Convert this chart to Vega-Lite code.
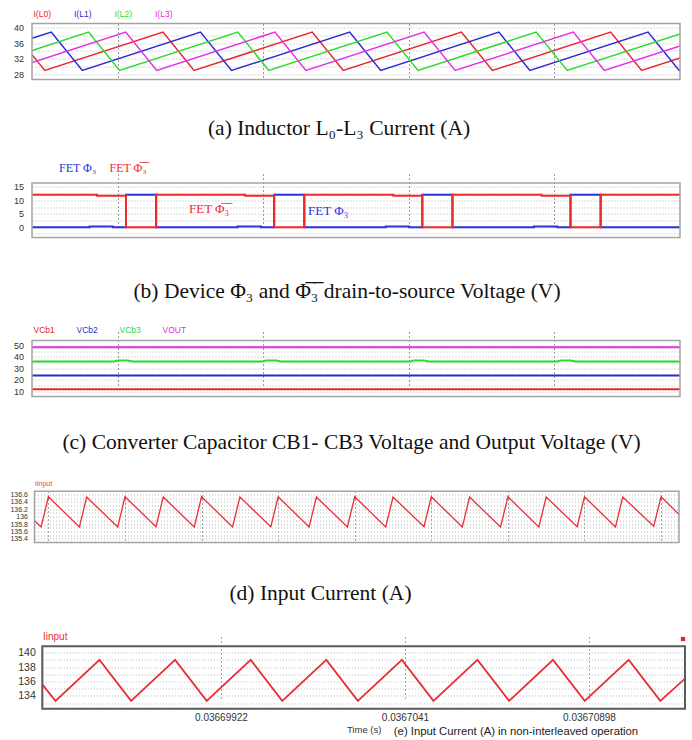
{
  "$schema": "https://vega.github.io/schema/vega-lite/v6.json",
  "background": "white",
  "padding": {"left": 9, "top": 9.5, "right": 0, "bottom": 0},
  "spacing": 94,
  "bounds": "flush",
  "resolve": {"scale": {"color": "independent"}, "legend": {"color": "independent"}},
  "config": {
    "view": {"stroke": null},
    "font": "Liberation Sans",
    "axis": {"labelFont": "Liberation Sans", "labelColor": "#333333", "ticks": false, "tickSize": 0, "domain": false, "labelOverlap": false},
    "legend": {"orient": "none", "direction": "horizontal", "gridAlign": "all", "symbolSize": 0, "symbolStrokeWidth": 0, "labelOffset": 0, "padding": 0, "rowPadding": 0}
  },
  "datasets": {
    "inductor": [
      {"s": "I(L0)", "t": 0, "i": 33.05}, {"s": "I(L0)", "t": 0.86, "i": 29.0}, {"s": "I(L0)", "t": 8.78, "i": 38.8}, {"s": "I(L0)", "t": 10.86, "i": 29.0},
      {"s": "I(L0)", "t": 18.78, "i": 38.8}, {"s": "I(L0)", "t": 20.86, "i": 29.0}, {"s": "I(L0)", "t": 28.78, "i": 38.8}, {"s": "I(L0)", "t": 30.86, "i": 29.0},
      {"s": "I(L0)", "t": 38.78, "i": 38.8}, {"s": "I(L0)", "t": 40.86, "i": 29.0}, {"s": "I(L0)", "t": 43.43, "i": 32.18},
      {"s": "I(L1)", "t": 0, "i": 37.2}, {"s": "I(L1)", "t": 1.29, "i": 38.8}, {"s": "I(L1)", "t": 3.37, "i": 29.0}, {"s": "I(L1)", "t": 11.29, "i": 38.8},
      {"s": "I(L1)", "t": 13.37, "i": 29.0}, {"s": "I(L1)", "t": 21.29, "i": 38.8}, {"s": "I(L1)", "t": 23.37, "i": 29.0}, {"s": "I(L1)", "t": 31.29, "i": 38.8},
      {"s": "I(L1)", "t": 33.37, "i": 29.0}, {"s": "I(L1)", "t": 41.29, "i": 38.8}, {"s": "I(L1)", "t": 43.37, "i": 29.0}, {"s": "I(L1)", "t": 43.43, "i": 29.07},
      {"s": "I(L2)", "t": 0, "i": 34.1}, {"s": "I(L2)", "t": 3.79, "i": 38.8}, {"s": "I(L2)", "t": 5.87, "i": 29.0}, {"s": "I(L2)", "t": 13.79, "i": 38.8},
      {"s": "I(L2)", "t": 15.87, "i": 29.0}, {"s": "I(L2)", "t": 23.79, "i": 38.8}, {"s": "I(L2)", "t": 25.87, "i": 29.0}, {"s": "I(L2)", "t": 33.79, "i": 38.8},
      {"s": "I(L2)", "t": 35.87, "i": 29.0}, {"s": "I(L2)", "t": 43.43, "i": 38.35},
      {"s": "I(L3)", "t": 0, "i": 31.0}, {"s": "I(L3)", "t": 6.28, "i": 38.8}, {"s": "I(L3)", "t": 8.36, "i": 29.0}, {"s": "I(L3)", "t": 16.28, "i": 38.8},
      {"s": "I(L3)", "t": 18.36, "i": 29.0}, {"s": "I(L3)", "t": 26.28, "i": 38.8}, {"s": "I(L3)", "t": 28.36, "i": 29.0}, {"s": "I(L3)", "t": 36.28, "i": 38.8},
      {"s": "I(L3)", "t": 38.36, "i": 29.0}, {"s": "I(L3)", "t": 43.43, "i": 35.27}
    ],
    "fet": [
      {"s": "FET \u03a6\u2083", "t": 0, "v": 0}, {"s": "FET \u03a6\u2083", "t": 3.85, "v": 0}, {"s": "FET \u03a6\u2083", "t": 3.85, "v": 0.3}, {"s": "FET \u03a6\u2083", "t": 5.42, "v": 0.3},
      {"s": "FET \u03a6\u2083", "t": 5.42, "v": 0}, {"s": "FET \u03a6\u2083", "t": 6.30, "v": 0}, {"s": "FET \u03a6\u2083", "t": 6.30, "v": 12}, {"s": "FET \u03a6\u2083", "t": 8.32, "v": 12},
      {"s": "FET \u03a6\u2083", "t": 8.32, "v": 0}, {"s": "FET \u03a6\u2083", "t": 13.78, "v": 0}, {"s": "FET \u03a6\u2083", "t": 13.78, "v": 0.3}, {"s": "FET \u03a6\u2083", "t": 15.35, "v": 0.3},
      {"s": "FET \u03a6\u2083", "t": 15.35, "v": 0}, {"s": "FET \u03a6\u2083", "t": 16.23, "v": 0}, {"s": "FET \u03a6\u2083", "t": 16.23, "v": 12}, {"s": "FET \u03a6\u2083", "t": 18.25, "v": 12},
      {"s": "FET \u03a6\u2083", "t": 18.25, "v": 0}, {"s": "FET \u03a6\u2083", "t": 23.71, "v": 0}, {"s": "FET \u03a6\u2083", "t": 23.71, "v": 0.3}, {"s": "FET \u03a6\u2083", "t": 25.28, "v": 0.3},
      {"s": "FET \u03a6\u2083", "t": 25.28, "v": 0}, {"s": "FET \u03a6\u2083", "t": 26.16, "v": 0}, {"s": "FET \u03a6\u2083", "t": 26.16, "v": 12}, {"s": "FET \u03a6\u2083", "t": 28.18, "v": 12},
      {"s": "FET \u03a6\u2083", "t": 28.18, "v": 0}, {"s": "FET \u03a6\u2083", "t": 33.64, "v": 0}, {"s": "FET \u03a6\u2083", "t": 33.64, "v": 0.3}, {"s": "FET \u03a6\u2083", "t": 35.21, "v": 0.3},
      {"s": "FET \u03a6\u2083", "t": 35.21, "v": 0}, {"s": "FET \u03a6\u2083", "t": 36.09, "v": 0}, {"s": "FET \u03a6\u2083", "t": 36.09, "v": 12}, {"s": "FET \u03a6\u2083", "t": 38.11, "v": 12},
      {"s": "FET \u03a6\u2083", "t": 38.11, "v": 0}, {"s": "FET \u03a6\u2083", "t": 43.43, "v": 0},
      {"s": "FET \u03a6\u0305\u2083\u0305", "t": 0, "v": 12}, {"s": "FET \u03a6\u0305\u2083\u0305", "t": 4.36, "v": 12}, {"s": "FET \u03a6\u0305\u2083\u0305", "t": 4.36, "v": 11.7}, {"s": "FET \u03a6\u0305\u2083\u0305", "t": 6.30, "v": 11.7},
      {"s": "FET \u03a6\u0305\u2083\u0305", "t": 6.30, "v": 0}, {"s": "FET \u03a6\u0305\u2083\u0305", "t": 8.32, "v": 0}, {"s": "FET \u03a6\u0305\u2083\u0305", "t": 8.32, "v": 12}, {"s": "FET \u03a6\u0305\u2083\u0305", "t": 14.29, "v": 12},
      {"s": "FET \u03a6\u0305\u2083\u0305", "t": 14.29, "v": 11.7}, {"s": "FET \u03a6\u0305\u2083\u0305", "t": 16.23, "v": 11.7}, {"s": "FET \u03a6\u0305\u2083\u0305", "t": 16.23, "v": 0}, {"s": "FET \u03a6\u0305\u2083\u0305", "t": 18.25, "v": 0},
      {"s": "FET \u03a6\u0305\u2083\u0305", "t": 18.25, "v": 12}, {"s": "FET \u03a6\u0305\u2083\u0305", "t": 24.22, "v": 12}, {"s": "FET \u03a6\u0305\u2083\u0305", "t": 24.22, "v": 11.7}, {"s": "FET \u03a6\u0305\u2083\u0305", "t": 26.16, "v": 11.7},
      {"s": "FET \u03a6\u0305\u2083\u0305", "t": 26.16, "v": 0}, {"s": "FET \u03a6\u0305\u2083\u0305", "t": 28.18, "v": 0}, {"s": "FET \u03a6\u0305\u2083\u0305", "t": 28.18, "v": 12}, {"s": "FET \u03a6\u0305\u2083\u0305", "t": 34.15, "v": 12},
      {"s": "FET \u03a6\u0305\u2083\u0305", "t": 34.15, "v": 11.7}, {"s": "FET \u03a6\u0305\u2083\u0305", "t": 36.09, "v": 11.7}, {"s": "FET \u03a6\u0305\u2083\u0305", "t": 36.09, "v": 0}, {"s": "FET \u03a6\u0305\u2083\u0305", "t": 38.11, "v": 0},
      {"s": "FET \u03a6\u0305\u2083\u0305", "t": 38.11, "v": 12}, {"s": "FET \u03a6\u0305\u2083\u0305", "t": 43.43, "v": 12}
    ],
    "fetNotes": [
      {"s": "FET \u03a6\u0305\u2083\u0305", "t": 10.52, "v": 6.6},
      {"s": "FET \u03a6\u2083", "t": 18.5, "v": 5.9}
    ],
    "caps": [
      {"s": "VCb1", "t": 0, "v": 11.8}, {"s": "VCb1", "t": 43.43, "v": 11.8},
      {"s": "VCb2", "t": 0, "v": 23.8}, {"s": "VCb2", "t": 43.43, "v": 23.8},
      {"s": "VCb3", "t": 0, "v": 36.0}, {"s": "VCb3", "t": 5.5, "v": 36.0}, {"s": "VCb3", "t": 5.75, "v": 36.8}, {"s": "VCb3", "t": 6.4, "v": 36.8}, {"s": "VCb3", "t": 6.75, "v": 36.0},
      {"s": "VCb3", "t": 15.45, "v": 36.0}, {"s": "VCb3", "t": 15.7, "v": 36.8}, {"s": "VCb3", "t": 16.35, "v": 36.8}, {"s": "VCb3", "t": 16.7, "v": 36.0},
      {"s": "VCb3", "t": 25.35, "v": 36.0}, {"s": "VCb3", "t": 25.6, "v": 36.8}, {"s": "VCb3", "t": 26.25, "v": 36.8}, {"s": "VCb3", "t": 26.6, "v": 36.0},
      {"s": "VCb3", "t": 35.2, "v": 36.0}, {"s": "VCb3", "t": 35.45, "v": 36.8}, {"s": "VCb3", "t": 36.1, "v": 36.8}, {"s": "VCb3", "t": 36.45, "v": 36.0},
      {"s": "VCb3", "t": 43.43, "v": 36.0},
      {"s": "VOUT", "t": 0, "v": 48.4}, {"s": "VOUT", "t": 43.43, "v": 48.4}
    ],
    "interleaved": [
      {"s": "Iinput", "t": 0, "v": 135.89}, {"s": "Iinput", "t": 0.431, "v": 135.72}, {"s": "Iinput", "t": 0.908, "v": 136.54},
      {"s": "Iinput", "t": 2.931, "v": 135.72}, {"s": "Iinput", "t": 3.408, "v": 136.53}, {"s": "Iinput", "t": 5.431, "v": 135.72}, {"s": "Iinput", "t": 5.908, "v": 136.54},
      {"s": "Iinput", "t": 7.931, "v": 135.73}, {"s": "Iinput", "t": 8.408, "v": 136.53}, {"s": "Iinput", "t": 10.431, "v": 135.72}, {"s": "Iinput", "t": 10.908, "v": 136.54},
      {"s": "Iinput", "t": 12.931, "v": 135.72}, {"s": "Iinput", "t": 13.408, "v": 136.53}, {"s": "Iinput", "t": 15.431, "v": 135.73}, {"s": "Iinput", "t": 15.908, "v": 136.54},
      {"s": "Iinput", "t": 17.931, "v": 135.72}, {"s": "Iinput", "t": 18.408, "v": 136.53}, {"s": "Iinput", "t": 20.431, "v": 135.72}, {"s": "Iinput", "t": 20.908, "v": 136.54},
      {"s": "Iinput", "t": 22.931, "v": 135.72}, {"s": "Iinput", "t": 23.408, "v": 136.53}, {"s": "Iinput", "t": 25.431, "v": 135.73}, {"s": "Iinput", "t": 25.908, "v": 136.54},
      {"s": "Iinput", "t": 27.931, "v": 135.72}, {"s": "Iinput", "t": 28.408, "v": 136.53}, {"s": "Iinput", "t": 30.431, "v": 135.72}, {"s": "Iinput", "t": 30.908, "v": 136.54},
      {"s": "Iinput", "t": 32.931, "v": 135.72}, {"s": "Iinput", "t": 33.408, "v": 136.53}, {"s": "Iinput", "t": 35.431, "v": 135.73}, {"s": "Iinput", "t": 35.908, "v": 136.54},
      {"s": "Iinput", "t": 37.931, "v": 135.72}, {"s": "Iinput", "t": 38.408, "v": 136.53}, {"s": "Iinput", "t": 40.431, "v": 135.74}, {"s": "Iinput", "t": 40.908, "v": 136.54},
      {"s": "Iinput", "t": 42.08, "v": 136.06}
    ],
    "single": [
      {"s": "Iinput", "t": 36694.481, "v": 135.6}, {"s": "Iinput", "t": 36694.831, "v": 133.3}, {"s": "Iinput", "t": 36695.998, "v": 139.0},
      {"s": "Iinput", "t": 36696.836, "v": 133.3}, {"s": "Iinput", "t": 36698.003, "v": 139.0}, {"s": "Iinput", "t": 36698.841, "v": 133.3},
      {"s": "Iinput", "t": 36700.008, "v": 139.0}, {"s": "Iinput", "t": 36700.846, "v": 133.3}, {"s": "Iinput", "t": 36702.013, "v": 139.0},
      {"s": "Iinput", "t": 36702.851, "v": 133.3}, {"s": "Iinput", "t": 36704.018, "v": 139.0}, {"s": "Iinput", "t": 36704.856, "v": 133.3},
      {"s": "Iinput", "t": 36706.023, "v": 139.0}, {"s": "Iinput", "t": 36706.862, "v": 133.3}, {"s": "Iinput", "t": 36708.028, "v": 139.0},
      {"s": "Iinput", "t": 36708.867, "v": 133.3}, {"s": "Iinput", "t": 36710.034, "v": 139.0}, {"s": "Iinput", "t": 36710.872, "v": 133.3},
      {"s": "Iinput", "t": 36711.527, "v": 136.4}
    ]
  },
  "vconcat": [
    {
      "width": 648,
      "height": 56,
      "title": {"text": "(a) Inductor L\u2080-L\u2083 Current (A)", "orient": "bottom", "anchor": "middle", "frame": "group", "dx": -17, "offset": 38, "font": "Liberation Serif", "fontSize": 21.5, "fontWeight": "normal", "color": "#111111"},
      "layer": [
        {
          "data": {"name": "inductor"},
          "mark": {"type": "line", "strokeWidth": 1.5, "clip": true},
          "encoding": {
            "x": {"field": "t", "type": "quantitative", "scale": {"domain": [0, 43.43], "nice": false, "zero": false},
                  "axis": {"title": null, "values": [5.76, 15.5, 25.25, 34.99], "labels": false, "grid": true, "gridColor": "#9a9a9a", "gridDash": [2, 2]}},
            "y": {"field": "i", "type": "quantitative", "scale": {"domain": [26.7, 41], "nice": false, "zero": false},
                  "axis": {"title": null, "values": [28, 30, 32, 34, 36, 38, 40], "labelOverlap": false, "labelExpr": "datum.value % 4 === 0 ? datum.label : ''", "labelFontSize": 9, "labelPadding": 8.5, "grid": true, "gridColor": "#b8b8b8", "gridDash": [1, 2]}},
            "color": {"field": "s", "type": "nominal",
                      "scale": {"domain": ["I(L0)", "I(L1)", "I(L2)", "I(L3)"], "range": ["#e8252b", "#2a2ad2", "#2bdc2b", "#e52ee5"]},
                      "legend": {"title": null, "legendX": -7, "legendY": -13.5, "columns": 4, "columnPadding": 14.5, "labelFont": "Liberation Sans", "labelFontSize": 8.5,
                                 "encode": {"labels": {"update": {"fill": {"signal": "['#e8252b', '#2a2ad2', '#2bdc2b', '#e52ee5'][datum.index]"}}}}}},
            "order": {"value": null}
          }
        },
        {
          "data": {"values": [{}]},
          "mark": {"type": "rect", "filled": false, "stroke": "#a4a4a4", "strokeWidth": 1.5},
          "encoding": {
            "x": {"datum": 0, "type": "quantitative", "scale": {"domain": [0, 43.43], "nice": false, "zero": false},
                  "axis": {"title": null, "values": [5.76, 15.5, 25.25, 34.99], "labels": false, "grid": true, "gridColor": "#9a9a9a", "gridDash": [2, 2]}},
            "x2": {"datum": 43.43},
            "y": {"datum": 26.7, "type": "quantitative", "scale": {"domain": [26.7, 41], "nice": false, "zero": false},
                  "axis": {"title": null, "values": [28, 30, 32, 34, 36, 38, 40], "labelOverlap": false, "labelExpr": "datum.value % 4 === 0 ? datum.label : ''", "labelFontSize": 9, "labelPadding": 8.5, "grid": true, "gridColor": "#b8b8b8", "gridDash": [1, 2]}},
            "y2": {"datum": 41}
          }
        }
      ]
    },
    {
      "width": 648,
      "height": 64,
      "title": {"text": "(b) Device \u03a6\u2083 and \u03a6\u0305\u2083\u0305 drain-to-source Voltage (V)", "orient": "bottom", "anchor": "middle", "frame": "group", "dx": -9, "offset": 42, "font": "Liberation Serif", "fontSize": 21.5, "fontWeight": "normal", "color": "#111111"},
      "layer": [
        {
          "data": {"name": "fet"},
          "mark": {"type": "line", "strokeWidth": 2, "clip": true},
          "encoding": {
            "x": {"field": "t", "type": "quantitative", "scale": {"domain": [0, 43.43], "nice": false, "zero": false},
                  "axis": {"title": null, "values": [5.76, 15.5, 25.25, 34.99], "labels": false, "grid": true, "gridColor": "#9a9a9a", "gridDash": [2, 2]}},
            "y": {"field": "v", "type": "quantitative", "scale": {"domain": [-3.8, 16.4], "nice": false, "zero": false, "range": [64, 9.5]},
                  "axis": {"title": null, "values": [-2.5, 0, 2.5, 5, 7.5, 10, 12.5, 15], "labelOverlap": false, "labelExpr": "datum.value % 5 === 0 ? datum.label : ''", "labelFontSize": 9, "labelPadding": 8.5, "grid": true, "gridColor": "#b8b8b8", "gridDash": [1, 2]}},
            "color": {"field": "s", "type": "nominal",
                      "scale": {"domain": ["FET \u03a6\u2083", "FET \u03a6\u0305\u2083\u0305"], "range": ["#2a35e0", "#ee2a2a"]},
                      "legend": {"title": null, "legendX": 15, "legendY": -12, "columns": 2, "columnPadding": 0.5, "labelFont": "Liberation Serif", "labelFontSize": 12,
                                 "encode": {"labels": {"update": {"fill": {"signal": "['#2a35e0', '#ee2a2a'][datum.index]"}}}}}},
            "order": {"value": null}
          }
        },
        {
          "data": {"name": "fetNotes"},
          "mark": {"type": "text", "align": "left", "baseline": "middle", "font": "Liberation Serif", "fontSize": 13},
          "encoding": {
            "x": {"field": "t", "type": "quantitative", "scale": {"domain": [0, 43.43], "nice": false, "zero": false},
                  "axis": {"title": null, "values": [5.76, 15.5, 25.25, 34.99], "labels": false, "grid": true, "gridColor": "#9a9a9a", "gridDash": [2, 2]}},
            "y": {"field": "v", "type": "quantitative", "scale": {"domain": [-3.8, 16.4], "nice": false, "zero": false, "range": [64, 9.5]},
                  "axis": {"title": null, "values": [-2.5, 0, 2.5, 5, 7.5, 10, 12.5, 15], "labelOverlap": false, "labelExpr": "datum.value % 5 === 0 ? datum.label : ''", "labelFontSize": 9, "labelPadding": 8.5, "grid": true, "gridColor": "#b8b8b8", "gridDash": [1, 2]}},
            "text": {"field": "s"},
            "color": {"field": "s", "type": "nominal", "legend": null}
          }
        },
        {
          "data": {"values": [{}]},
          "mark": {"type": "rect", "filled": false, "stroke": "#a4a4a4", "strokeWidth": 1.5},
          "encoding": {
            "x": {"datum": 0, "type": "quantitative", "scale": {"domain": [0, 43.43], "nice": false, "zero": false},
                  "axis": {"title": null, "values": [5.76, 15.5, 25.25, 34.99], "labels": false, "grid": true, "gridColor": "#9a9a9a", "gridDash": [2, 2]}},
            "x2": {"datum": 43.43},
            "y": {"datum": -3.8, "type": "quantitative", "scale": {"domain": [-3.8, 16.4], "nice": false, "zero": false, "range": [64, 9.5]},
                  "axis": {"title": null, "values": [-2.5, 0, 2.5, 5, 7.5, 10, 12.5, 15], "labelOverlap": false, "labelExpr": "datum.value % 5 === 0 ? datum.label : ''", "labelFontSize": 9, "labelPadding": 8.5, "grid": true, "gridColor": "#b8b8b8", "gridDash": [1, 2]}},
            "y2": {"datum": 16.4}
          }
        }
      ]
    },
    {
      "width": 648,
      "height": 65,
      "title": {"text": "(c) Converter Capacitor CB1- CB3 Voltage and Output Voltage (V)", "orient": "bottom", "anchor": "middle", "frame": "group", "dx": -4.5, "offset": 35, "font": "Liberation Serif", "fontSize": 21.5, "fontWeight": "normal", "color": "#111111"},
      "layer": [
        {
          "data": {"name": "caps"},
          "mark": {"type": "line", "strokeWidth": 2, "clip": true},
          "encoding": {
            "x": {"field": "t", "type": "quantitative", "scale": {"domain": [0, 43.43], "nice": false, "zero": false},
                  "axis": {"title": null, "values": [5.76, 15.5, 25.25, 34.99], "labels": false, "grid": true, "gridColor": "#9a9a9a", "gridDash": [2, 2]}},
            "y": {"field": "v", "type": "quantitative", "scale": {"domain": [5.6, 54.3], "nice": false, "zero": false, "range": [65, 9]},
                  "axis": {"title": null, "values": [10, 15, 20, 25, 30, 35, 40, 45, 50], "labelOverlap": false, "labelExpr": "datum.value % 10 === 0 ? datum.label : ''", "labelFontSize": 9, "labelPadding": 8.5, "grid": true, "gridColor": "#b8b8b8", "gridDash": [1, 2]}},
            "color": {"field": "s", "type": "nominal",
                      "scale": {"domain": ["VCb1", "VCb2", "VCb3", "VOUT"], "range": ["#e8252b", "#2a2ad2", "#2bdc2b", "#e52ee5"]},
                      "legend": {"title": null, "legendX": -7, "legendY": -5.5, "columns": 4, "columnPadding": 10, "labelFont": "Liberation Sans", "labelFontSize": 8.5,
                                 "encode": {"labels": {"update": {"fill": {"signal": "['#e8252b', '#2a2ad2', '#2bdc2b', '#e52ee5'][datum.index]"}}}}}},
            "order": {"value": null}
          }
        },
        {
          "data": {"values": [{}]},
          "mark": {"type": "rect", "filled": false, "stroke": "#a4a4a4", "strokeWidth": 1.5},
          "encoding": {
            "x": {"datum": 0, "type": "quantitative", "scale": {"domain": [0, 43.43], "nice": false, "zero": false},
                  "axis": {"title": null, "values": [5.76, 15.5, 25.25, 34.99], "labels": false, "grid": true, "gridColor": "#9a9a9a", "gridDash": [2, 2]}},
            "x2": {"datum": 43.43},
            "y": {"datum": 5.6, "type": "quantitative", "scale": {"domain": [5.6, 54.3], "nice": false, "zero": false, "range": [65, 9]},
                  "axis": {"title": null, "values": [10, 15, 20, 25, 30, 35, 40, 45, 50], "labelOverlap": false, "labelExpr": "datum.value % 10 === 0 ? datum.label : ''", "labelFontSize": 9, "labelPadding": 8.5, "grid": true, "gridColor": "#b8b8b8", "gridDash": [1, 2]}},
            "y2": {"datum": 54.3}
          }
        }
      ]
    },
    {
      "width": 647,
      "height": 52,
      "title": {"text": "(d) Input Current (A)", "orient": "bottom", "anchor": "middle", "frame": "group", "dx": -35, "offset": 40, "font": "Liberation Serif", "fontSize": 21.5, "fontWeight": "normal", "color": "#111111"},
      "layer": [
        {
          "data": {"name": "interleaved"},
          "mark": {"type": "line", "strokeWidth": 1.3, "clip": true},
          "encoding": {
            "x": {"field": "t", "type": "quantitative", "scale": {"domain": [0, 42.08], "nice": false, "zero": false, "range": [2.5, 647]},
                  "axis": {"title": null, "values": [0.908, 5.908, 10.908, 15.908, 20.908, 25.908, 30.908, 35.908, 40.908], "labels": false, "grid": true, "gridColor": "#a8a8a8", "gridDash": [2, 2]}},
            "y": {"field": "v", "type": "quantitative", "scale": {"domain": [135.3, 136.69], "nice": false, "zero": false, "range": [52, 0.7]},
                  "axis": {"title": null, "offset": -2.5, "values": [135.4, 135.5, 135.6, 135.7, 135.8, 135.9, 136.0, 136.1, 136.2, 136.3, 136.4, 136.5, 136.6], "labelOverlap": false, "labelExpr": "round(datum.value * 10) % 2 === 0 ? format(datum.value, '~f') : ''", "labelFontSize": 7, "labelPadding": 7, "grid": true, "gridColor": "#b8b8b8", "gridDash": [1, 2]}},
            "color": {"field": "s", "type": "nominal",
                      "scale": {"domain": ["Iinput"], "range": ["#e8303a"]},
                      "legend": {"title": null, "legendX": -4, "legendY": -10.5, "labelFont": "Liberation Sans", "labelFontSize": 7,
                                 "encode": {"labels": {"update": {"fill": {"value": "#e8404a"}}}}}},
            "order": {"value": null}
          }
        },
        {
          "data": {"values": [{}]},
          "mark": {"type": "rect", "filled": false, "stroke": "#a4a4a4", "strokeWidth": 1.5},
          "encoding": {
            "x": {"datum": 0, "type": "quantitative", "scale": {"domain": [0, 42.08], "nice": false, "zero": false, "range": [2.5, 647]},
                  "axis": {"title": null, "values": [0.908, 5.908, 10.908, 15.908, 20.908, 25.908, 30.908, 35.908, 40.908], "labels": false, "grid": true, "gridColor": "#a8a8a8", "gridDash": [2, 2]}},
            "x2": {"datum": 42.08},
            "y": {"datum": 135.3, "type": "quantitative", "scale": {"domain": [135.3, 136.69], "nice": false, "zero": false, "range": [52, 0.7]},
                  "axis": {"title": null, "offset": -2.5, "values": [135.4, 135.5, 135.6, 135.7, 135.8, 135.9, 136.0, 136.1, 136.2, 136.3, 136.4, 136.5, 136.6], "labelOverlap": false, "labelExpr": "round(datum.value * 10) % 2 === 0 ? format(datum.value, '~f') : ''", "labelFontSize": 7, "labelPadding": 7, "grid": true, "gridColor": "#b8b8b8", "gridDash": [1, 2]}},
            "y2": {"datum": 136.69}
          }
        }
      ]
    },
    {
      "width": 653,
      "height": 72.3,
      "title": {"text": "(e) Input Current (A) in non-interleaved  operation", "orient": "bottom", "anchor": "middle", "frame": "group", "dx": 157.5, "offset": -8, "font": "Liberation Sans Narrow, Arial Narrow, Liberation Sans", "fontSize": 11.3, "fontWeight": "normal", "color": "#222222"},
      "layer": [
        {
          "data": {"name": "single"},
          "mark": {"type": "line", "strokeWidth": 1.8, "clip": true},
          "encoding": {
            "x": {"field": "t", "type": "quantitative", "scale": {"domain": [36694.481, 36711.527], "nice": false, "zero": false, "range": [10.3, 653]},
                  "axis": {"title": "Time (s)", "titleFont": "Liberation Sans", "titleFontSize": 9.5, "titleFontWeight": "normal", "titleColor": "#333333", "titlePadding": 2,
                           "values": [36699.22, 36704.10, 36708.98], "labelOverlap": false, "labelExpr": "format(datum.value / 1000000, '.8~f')", "labelFontSize": 10, "labelPadding": 4,
                           "grid": true, "gridColor": "#a8a8a8", "gridDash": [2, 2]}},
            "y": {"field": "v", "type": "quantitative", "scale": {"domain": [132.2, 140.9], "nice": false, "zero": false, "range": [72.3, 9.7]},
                  "axis": {"title": null, "offset": -10.3, "values": [133, 134, 135, 136, 137, 138, 139, 140], "labelOverlap": false, "labelExpr": "datum.value % 2 === 0 ? datum.label : ''", "labelFontSize": 10.5, "labelPadding": 7, "grid": true, "gridColor": "#b8b8b8", "gridDash": [1, 2]}},
            "color": {"field": "s", "type": "nominal",
                      "scale": {"domain": ["Iinput"], "range": ["#e8303a"]},
                      "legend": {"title": null, "legendX": 1, "legendY": -5, "labelFont": "Liberation Sans", "labelFontSize": 10,
                                 "encode": {"labels": {"update": {"fill": {"value": "#e8303a"}}}}}},
            "order": {"value": null}
          }
        },
        {
          "data": {"values": [{}]},
          "mark": {"type": "rect", "filled": false, "stroke": "#5a5a5a", "strokeWidth": 2},
          "encoding": {
            "x": {"datum": 36694.481, "type": "quantitative", "scale": {"domain": [36694.481, 36711.527], "nice": false, "zero": false, "range": [10.3, 653]},
                  "axis": {"title": "Time (s)", "titleFont": "Liberation Sans", "titleFontSize": 9.5, "titleFontWeight": "normal", "titleColor": "#333333", "titlePadding": 2,
                           "values": [36699.22, 36704.10, 36708.98], "labelOverlap": false, "labelExpr": "format(datum.value / 1000000, '.8~f')", "labelFontSize": 10, "labelPadding": 4,
                           "grid": true, "gridColor": "#a8a8a8", "gridDash": [2, 2]}},
            "x2": {"datum": 36711.527},
            "y": {"datum": 132.2, "type": "quantitative", "scale": {"domain": [132.2, 140.9], "nice": false, "zero": false, "range": [72.3, 9.7]},
                  "axis": {"title": null, "offset": -10.3, "values": [133, 134, 135, 136, 137, 138, 139, 140], "labelOverlap": false, "labelExpr": "datum.value % 2 === 0 ? datum.label : ''", "labelFontSize": 10.5, "labelPadding": 7, "grid": true, "gridColor": "#b8b8b8", "gridDash": [1, 2]}},
            "y2": {"datum": 140.9}
          }
        },
        {
          "data": {"values": [{}]},
          "mark": {"type": "square", "size": 18, "color": "#e8202a", "opacity": 1, "clip": false},
          "encoding": {
            "x": {"datum": 36711.474, "type": "quantitative", "scale": {"domain": [36694.481, 36711.527], "nice": false, "zero": false, "range": [10.3, 653]},
                  "axis": {"title": "Time (s)", "titleFont": "Liberation Sans", "titleFontSize": 9.5, "titleFontWeight": "normal", "titleColor": "#333333", "titlePadding": 2,
                           "values": [36699.22, 36704.10, 36708.98], "labelOverlap": false, "labelExpr": "format(datum.value / 1000000, '.8~f')", "labelFontSize": 10, "labelPadding": 4,
                           "grid": true, "gridColor": "#a8a8a8", "gridDash": [2, 2]}},
            "y": {"datum": 141.9, "type": "quantitative", "scale": {"domain": [132.2, 140.9], "nice": false, "zero": false, "range": [72.3, 9.7]},
                  "axis": {"title": null, "offset": -10.3, "values": [133, 134, 135, 136, 137, 138, 139, 140], "labelOverlap": false, "labelExpr": "datum.value % 2 === 0 ? datum.label : ''", "labelFontSize": 10.5, "labelPadding": 7, "grid": true, "gridColor": "#b8b8b8", "gridDash": [1, 2]}}
          }
        }
      ]
    }
  ]
}
